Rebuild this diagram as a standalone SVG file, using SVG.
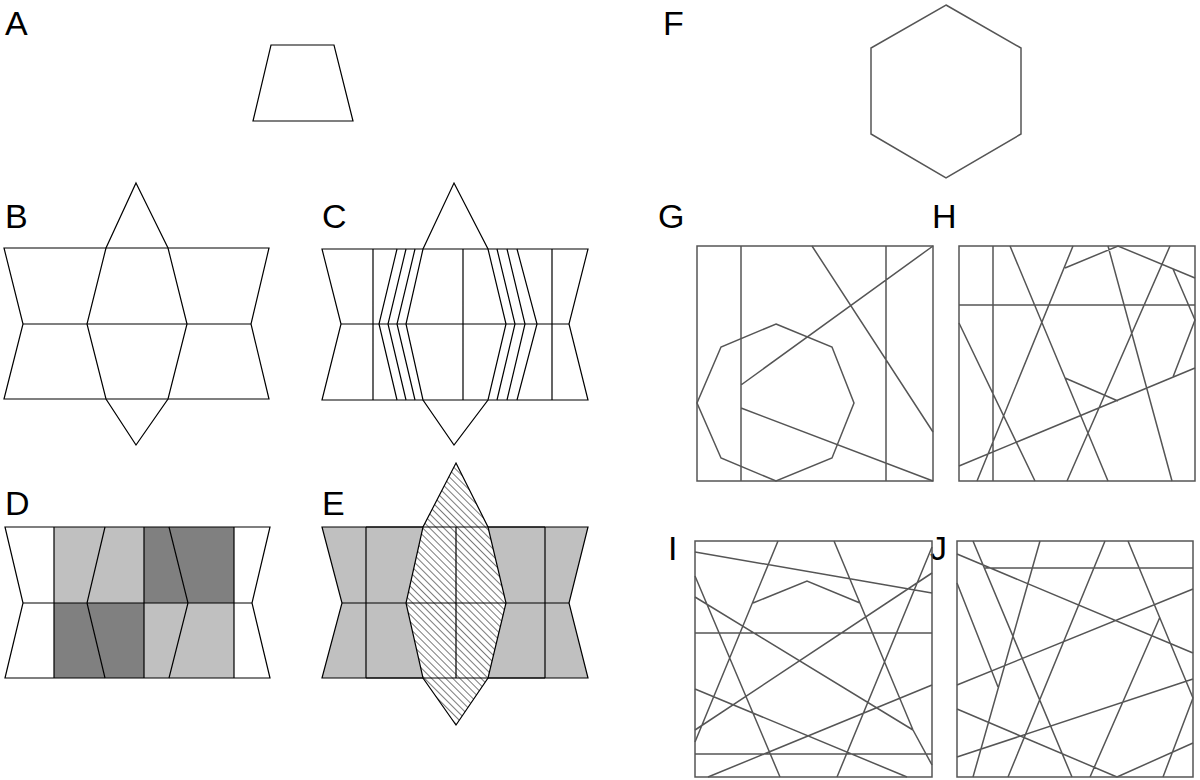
<svg xmlns="http://www.w3.org/2000/svg" width="1200" height="780" viewBox="0 0 1200 780">
<style>
.lbl{font-family:"Liberation Sans",Arial,sans-serif;font-size:34px;fill:#000}
.k{fill:none;stroke:#000;stroke-width:1.2}
.g{fill:none;stroke:#555;stroke-width:1.5}
</style>
<defs>
<pattern id="hatch" width="5" height="5" patternUnits="userSpaceOnUse" patternTransform="rotate(-45)">
<rect width="5" height="5" fill="#fff"/>
<line x1="0" y1="0" x2="0" y2="5" stroke="#333" stroke-width="1.3"/>
</pattern>
</defs>
<rect width="1200" height="780" fill="#fff"/>
<g id="labels">
<text class="lbl" x="5" y="35">A</text>
<text class="lbl" x="5" y="228">B</text>
<text class="lbl" x="322" y="228">C</text>
<text class="lbl" x="5" y="515">D</text>
<text class="lbl" x="322" y="515">E</text>
<text class="lbl" x="663" y="35">F</text>
<text class="lbl" x="658" y="228">G</text>
<text class="lbl" x="932" y="228">H</text>
<text class="lbl" x="668" y="560">I</text>
<text class="lbl" x="930" y="560">J</text>
</g>
<g id="A"><polygon class="k" points="271,45 334,45 353,121 253,121"/></g>
<g id="B">
<polygon class="k" points="4,248 269,248 251,324 269,399 4,399 23,324"/>
<line class="k" x1="23" y1="324" x2="251" y2="324"/>
<polygon class="k" points="136,183 168,248 187,324 168,399 136,445 106,399 87,324 106,248"/>
</g>
<g id="C">
<polygon class="k" points="322,249 588,249 569,324 588,400 322,400 341,324"/>
<line class="k" x1="341" y1="324" x2="569" y2="324"/>
<polygon class="k" points="454,183 488,249 506,324 488,400 454,445 423,400 406,324 423,249"/>
<path class="k" d="M373,249V400M463,249V400M552,249V400M397,249L379,324L397,400M406,249L388,324L406,400M415,249L397,324L415,400M497,249L515,324L497,400M507,249L525,324L507,400M517,249L537,324L517,400"/>
</g>
<g id="D">
<polygon fill="#c0c0c0" points="54,527 105,527 87,603 54,603"/>
<polygon fill="#c0c0c0" points="105,527 144,527 144,603 87,603"/>
<polygon fill="#808080" points="144,527 169,527 188,603 144,603"/>
<polygon fill="#808080" points="169,527 234,527 234,603 188,603"/>
<polygon fill="#808080" points="54,603 87,603 105,678 54,678"/>
<polygon fill="#808080" points="87,603 144,603 144,678 105,678"/>
<polygon fill="#c0c0c0" points="144,603 188,603 169,678 144,678"/>
<polygon fill="#c0c0c0" points="188,603 234,603 234,678 169,678"/>
<polygon class="k" points="5,527 270,527 252,603 270,678 5,678 23,603"/>
<path class="k" d="M23,603H252M54,527V678M144,527V678M234,527V678M105,527L87,603L105,678M169,527L188,603L169,678"/>
</g>
<g id="E">
<polygon style="fill:#c0c0c0" points="322,527 588,527 569,603 588,678 322,678 342,603"/>
<polygon class="k" points="322,527 588,527 569,603 588,678 322,678 342,603" stroke="#777"/>
<polygon style="fill:url(#hatch)" points="456,463 488,527 506,603 488,678 456,725 423,678 406,603 423,527"/>
<polygon class="k" points="456,463 488,527 506,603 488,678 456,725 423,678 406,603 423,527"/>
<path class="k" d="M342,603H569M366,527V678M545,527V678M456,527V678M366,527H545M366,678H545"/>
</g>
<g id="F"><polygon class="g" points="946,5 1021,48 1021,134 946,178 871,134 871,48"/></g>
<g id="G">
<rect class="g" x="697" y="246" width="236" height="235"/>
<path class="g" d="M741,246V481M886,246V481M812,246L933,432M741,385L933,246M741,408L933,481"/>
<polygon class="g" points="776,324 832,347 854,403 832,458 776,481 721,458 697,403 721,347"/>
</g>
<g id="H">
<rect class="g" x="959" y="246" width="236" height="235"/>
<path class="g" d="M993,246V481M959,305H1195M1010,246L1108,481M1073,246L977,481M1108,246L1172,481M1170,246L1067,481M959,323L1035,481M959,466L1195,368M1065,268L1118,246L1195,278M1173,269L1195,320L1173,377M1065,378L1118,401"/>
</g>
<g id="I">
<rect class="g" x="695" y="541" width="237" height="236"/>
<path class="g" d="M695,552L932,593M778,541L695,742M834,541L913,730L932,765M932,547L837,777M695,576L780,777M695,597L913,730M695,633H932M695,730L932,573M695,689L907,777M708,777L932,685M695,754H932M753,603L807,581L860,603"/>
</g>
<g id="J">
<rect class="g" x="957" y="541" width="236" height="236"/>
<path class="g" d="M985,568H1193M957,554L1193,653M973,541L1072,777M1040,541L973,777M1105,541L1008,777M1128,541L1193,698M957,583L998,687M957,685L1193,589M957,709L1117,777M957,757L1193,679M1160,617L1090,777M1193,698L1163,777M1117,777L1193,743"/>
</g>
</svg>
